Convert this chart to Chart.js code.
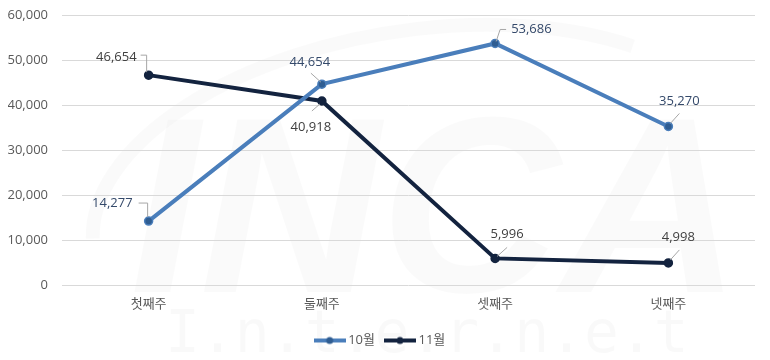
<!DOCTYPE html>
<html>
<head>
<meta charset="utf-8">
<script src="https://cdn.jsdelivr.net/npm/chart.js@4/dist/chart.umd.min.js"></script>
<style>
  html, body { margin: 0; padding: 0; background: #fff; }
  #wrap { width: 770px; height: 360px; }
</style>
</head>
<body>
<div id="wrap"><canvas id="graph"></canvas></div>
<script>
let weeks = ["첫째주", "둘째주", "셋째주", "넷째주"];
let october = [14277, 44654, 53686, 35270];
let november = [46654, 40918, 5996, 4998];
let seriesNames = ["10월", "11월"];
let yTicks = [0, 10000, 20000, 30000, 40000, 50000, 60000];

let font = "'Open Sans', 'Noto Sans CJK KR', sans-serif";
let blue = '#4a7ebb';
let navy = '#13233f';

// where each value label sits next to its point, and the leader line to it
let labelPlace = [
    [
        {dx: -16, dy: -18, align: 'right', leader: [[-1, -4], [-1, -18], [-10, -18]]},
        {dx: -12, dy: -22, align: 'center', leader: [[-1, -2], [-11, -11]]},
        {dx: 16, dy: -14, align: 'left', leader: [[1, -2], [5, -14], [11, -14]]},
        {dx: 11, dy: -25, align: 'center', leader: [[2, -3], [11, -13]]}
    ],
    [
        {dx: -12, dy: -18, align: 'right', leader: [[-2, -3], [-2, -20], [-8, -20]]},
        {dx: -11, dy: 26, align: 'center', leader: [[-2, 3], [-10, 10]]},
        {dx: 12, dy: -24, align: 'center', leader: [[2, -2], [12, -11]]},
        {dx: 10, dy: -26, align: 'center', leader: [[2, -3], [11, -13]]}
    ]
];
let labelColors = ['#34496a', '#404040'];

function legendMark(color, dot) {
    let c = document.createElement('canvas');
    c.width = 32; c.height = 10;
    let g = c.getContext('2d');
    g.strokeStyle = color;
    g.lineWidth = 4;
    g.beginPath(); g.moveTo(0, 5); g.lineTo(32, 5); g.stroke();
    g.fillStyle = dot;
    g.beginPath(); g.arc(16, 5, 3.5, 0, Math.PI * 2); g.fill();
    return c;
}

let watermark = {
    id: 'watermark',
    beforeDraw(chart) {
        let ctx = chart.ctx;
        ctx.save();
        ctx.fillStyle = 'rgba(0,0,0,0.02)';
        ctx.font = "italic bold 250px 'Liberation Sans', sans-serif";
        ctx.textBaseline = 'alphabetic';
        ctx.fillText('INCA', 130, 292);
        ctx.strokeStyle = 'rgba(0,0,0,0.018)';
        ctx.lineWidth = 14;
        ctx.beginPath();
        ctx.ellipse(420, 200, 330, 170, -0.15, Math.PI * 1.02, Math.PI * 1.75);
        ctx.stroke();
        ctx.font = "58px 'DejaVu Sans Mono', monospace";
        ctx.fillStyle = 'rgba(0,0,0,0.025)';
        ctx.fillText('I.n.t.e.r.n.e.t', 165, 352);
        ctx.restore();
    }
};

let valueLabels = {
    id: 'valueLabels',
    afterDatasetsDraw(chart) {
        let ctx = chart.ctx;
        ctx.save();
        chart.data.datasets.forEach((ds, i) => {
            chart.getDatasetMeta(i).data.forEach((pt, j) => {
                let p = labelPlace[i][j];
                ctx.strokeStyle = '#a6a6a6';
                ctx.lineWidth = 1;
                ctx.beginPath();
                p.leader.forEach((o, k) => {
                    if (k === 0) ctx.moveTo(pt.x + o[0], pt.y + o[1]);
                    else ctx.lineTo(pt.x + o[0], pt.y + o[1]);
                });
                ctx.stroke();
                ctx.fillStyle = labelColors[i];
                ctx.font = '13px ' + font;
                ctx.textAlign = p.align;
                ctx.textBaseline = 'middle';
                ctx.fillText(ds.data[j].toLocaleString('en-US'), pt.x + p.dx, pt.y + p.dy);
            });
        });
        ctx.restore();
    }
};

let graph = document.getElementById('graph').getContext('2d');

let stat = new Chart(graph, {
    type: 'line',
    data: {
        labels: weeks,
        datasets: [
            {
                label: seriesNames[0],
                data: october,
                borderColor: blue,
                backgroundColor: '#2f5d92',
                pointBorderColor: blue,
                borderWidth: 4,
                pointRadius: 4,
                pointBorderWidth: 1.5,
                tension: 0
            },
            {
                label: seriesNames[1],
                data: november,
                borderColor: navy,
                backgroundColor: navy,
                pointBorderColor: navy,
                borderWidth: 4,
                pointRadius: 4,
                pointBorderWidth: 1.5,
                tension: 0
            }
        ]
    },
    options: {
        responsive: true,
        maintainAspectRatio: false,
        animation: false,
        layout: { padding: { left: 8, right: 15, top: 15, bottom: 3 } },
        plugins: {
            tooltip: { enabled: false },
            legend: {
                position: 'bottom',
                labels: {
                    usePointStyle: true,
                    pointStyleWidth: 24,
                    padding: 13,
                    color: '#595959',
                    font: { size: 13, family: font },
                    generateLabels(chart) {
                        return chart.data.datasets.map((ds, i) => ({
                            text: ds.label,
                            pointStyle: legendMark(ds.borderColor, ds.backgroundColor),
                            fontColor: '#595959',
                            datasetIndex: i,
                            hidden: false
                        }));
                    }
                }
            }
        },
        scales: {
            x: {
                offset: true,
                grid: { display: false },
                border: { display: false },
                ticks: { color: '#595959', font: { size: 13, family: font }, padding: 3 },
                afterFit(axis) {
                    axis.height += 6;
                    axis.paddingLeft = 0;
                    axis.paddingRight = 0;
                }
            },
            y: {
                min: yTicks[0],
                max: yTicks[yTicks.length - 1],
                afterBuildTicks(axis) {
                    axis.ticks = yTicks.map(v => ({ value: v }));
                },
                afterFit(axis) {
                    axis.width = 54;
                    axis.paddingTop = 0;
                    axis.paddingBottom = 0;
                },
                grid: { color: '#d9d9d9', lineWidth: 1, drawTicks: false },
                border: { display: false },
                ticks: {
                    color: '#595959',
                    font: { size: 13, family: font },
                    padding: 14,
                    callback: v => v.toLocaleString('en-US')
                }
            }
        }
    },
    plugins: [watermark, valueLabels]
});
</script>
</body>
</html>
